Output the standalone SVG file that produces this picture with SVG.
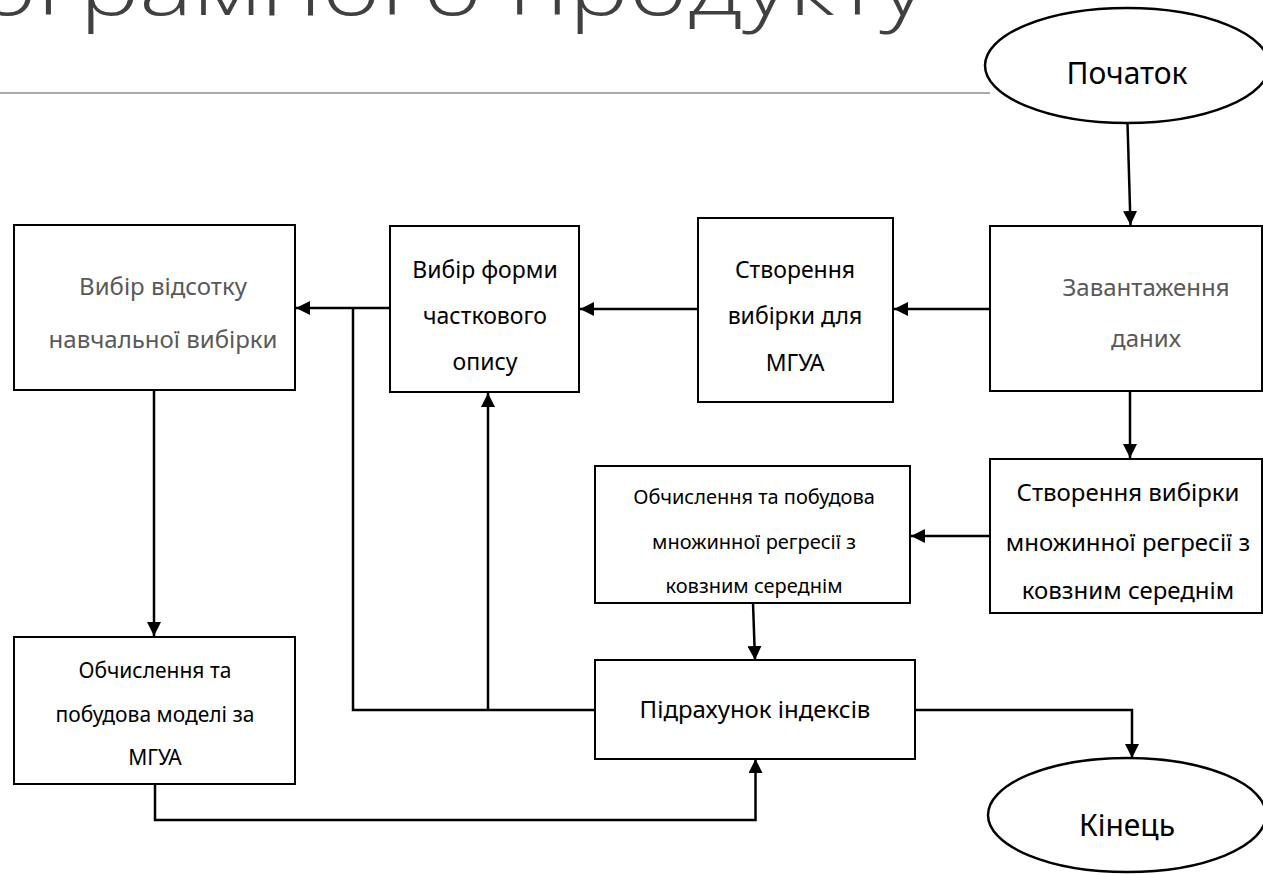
<svg xmlns="http://www.w3.org/2000/svg" width="1263" height="874" viewBox="0 0 1263 874">
<defs>
<marker id="ah" viewBox="0 0 14 14" refX="14" refY="7" markerWidth="14" markerHeight="14" markerUnits="userSpaceOnUse" orient="auto">
<path d="M0,0 L14,7 L0,14 Z" fill="#000"/>
</marker>
<style>
.box{fill:#fff;stroke:#000;stroke-width:2}
.t{font-family:"Noto Sans","Liberation Sans",sans-serif;fill:#000;text-anchor:middle}
.g{fill:#595959}
.c{fill:none;stroke:#000;stroke-width:2.5}
.a{marker-end:url(#ah)}
</style>
</defs>
<rect width="1263" height="874" fill="#fff"/>
<g id="title">
<text x="-22" y="15" font-family="'Open Sans','Noto Sans',sans-serif" font-weight="300" font-size="80" fill="#404040" textLength="948" lengthAdjust="spacingAndGlyphs">ограмного продукту</text>
<line x1="0" y1="93" x2="990" y2="93" stroke="#8c8c8c" stroke-width="1.5"/>
</g>
<g id="connectors">
<path class="c a" d="M1127.5,123 L1130.5,225"/>
<path class="c a" d="M990,309 L894,309"/>
<path class="c a" d="M698,309 L580,309"/>
<path class="c a" d="M390,308 L296,308"/>
<path class="c" d="M595,710 L353,710 L353,308"/>
<path class="c a" d="M488,710 L488,393"/>
<path class="c a" d="M154,391 L154,636"/>
<path class="c a" d="M155,783 L155,820 L755.5,820 L755.5,759"/>
<path class="c a" d="M1130,391 L1130,458"/>
<path class="c a" d="M990,536 L911,536"/>
<path class="c a" d="M753,603 L755,660"/>
<path class="c a" d="M915,710 L1132,710 L1132,758"/>
</g>
<g id="start">
<ellipse cx="1127" cy="65.5" rx="142" ry="57.5" fill="#fff" stroke="#000" stroke-width="2.5"/>
<text class="t" x="1127" y="84" font-size="30">Початок</text>
</g>
<g id="load">
<rect class="box" x="990" y="226" width="272" height="165"/>
<text class="t g" x="1146" y="296" font-size="24">Завантаження</text>
<text class="t g" x="1146" y="347" font-size="24">даних</text>
</g>
<g id="mgua-sample">
<rect class="box" x="698" y="218" width="195" height="184"/>
<text class="t" x="795" y="278" font-size="23">Створення</text>
<text class="t" x="795" y="324" font-size="23">вибірки для</text>
<text class="t" x="795" y="371" font-size="23">МГУА</text>
</g>
<g id="form">
<rect class="box" x="390" y="226" width="189" height="166"/>
<text class="t" x="485" y="278" font-size="23">Вибір форми</text>
<text class="t" x="485" y="324" font-size="23">часткового</text>
<text class="t" x="485" y="370" font-size="23">опису</text>
</g>
<g id="percent">
<rect class="box" x="14" y="225" width="281" height="165"/>
<text class="t g" x="163" y="295" font-size="24">Вибір відсотку</text>
<text class="t g" x="163" y="348" font-size="24">навчальної вибірки</text>
</g>
<g id="regr-sample">
<rect class="box" x="990" y="459" width="272" height="154"/>
<text class="t" x="1128" y="501" font-size="24">Створення вибірки</text>
<text class="t" x="1128" y="551" font-size="24">множинної регресії з</text>
<text class="t" x="1128" y="599" font-size="24">ковзним середнім</text>
</g>
<g id="regr-calc">
<rect class="box" x="595" y="466" width="315" height="137"/>
<text class="t" x="754" y="504" font-size="20">Обчислення та побудова</text>
<text class="t" x="754" y="549" font-size="20">множинної регресії з</text>
<text class="t" x="754" y="593" font-size="20">ковзним середнім</text>
</g>
<g id="indices">
<rect class="box" x="595" y="660" width="320" height="99"/>
<text class="t" x="755" y="718" font-size="24">Підрахунок індексів</text>
</g>
<g id="mgua-calc">
<rect class="box" x="14" y="637" width="281" height="147"/>
<text class="t" x="155" y="678" font-size="21">Обчислення та</text>
<text class="t" x="155" y="722" font-size="21">побудова моделі за</text>
<text class="t" x="155" y="765" font-size="21">МГУА</text>
</g>
<g id="end">
<ellipse cx="1127" cy="815" rx="139" ry="57" fill="#fff" stroke="#000" stroke-width="2.5"/>
<text class="t" x="1127" y="836" font-size="30">Кінець</text>
</g>
</svg>
